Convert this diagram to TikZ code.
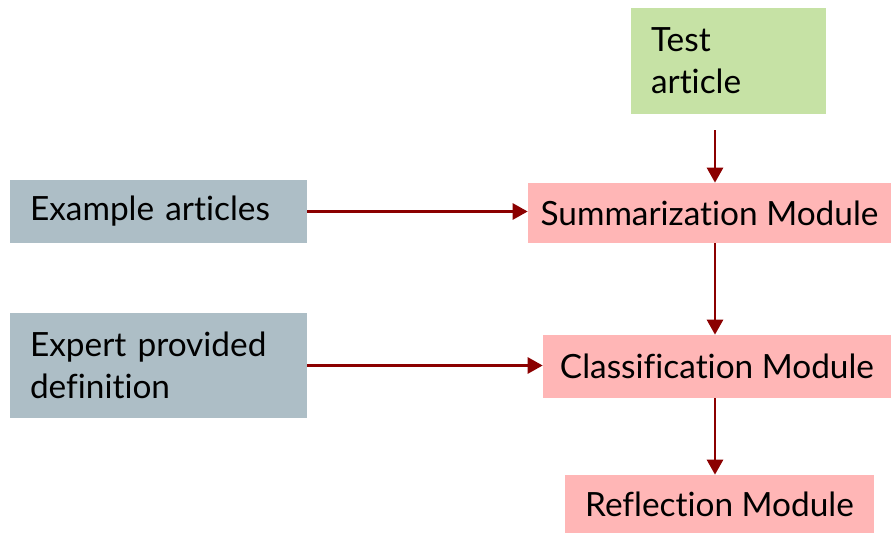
\documentclass[tikz,border=0pt]{standalone}
\usepackage{fontspec}
\setmainfont{Lato}[Ligatures=NoCommon]
\usetikzlibrary{arrows.meta}

\definecolor{testgreen}{RGB}{198,226,165}
\definecolor{srcgray}{RGB}{173,190,198}
\definecolor{modpink}{RGB}{255,182,182}
\definecolor{flowred}{RGB}{139,0,0}

\tikzset{
  srcbox/.style={fill=srcgray, align=left, inner xsep=0.4cm, inner ysep=0pt,
    text width=5.14cm, font=\fontsize{19}{24}\selectfont},
  modbox/.style={fill=modpink, inner sep=0pt, font=\fontsize{19}{24}\selectfont},
  flow/.style={draw=flowred, line width=1.6pt,
    -{Triangle[length=0.3cm,width=0.32cm]}}
}

\begin{document}
\begin{tikzpicture}[x=0.02cm,y=-0.02cm]
\useasboundingbox (0,0) rectangle (894,534);

\node[fill=testgreen, align=left, inner xsep=0.4cm, inner ysep=0pt, text width=3.1cm,
  minimum height=2.12cm, font=\fontsize{19}{24}\selectfont] (test) at (728.5,61) {Test\\article};

\node[srcbox, minimum height=1.26cm] (ex) at (158.5,211.5) {Example articles};
\node[srcbox, minimum height=2.1cm] (exp) at (158.5,365.5) {Expert provided\\definition};

\node[modbox, minimum width=7.26cm, minimum height=1.2cm] (sum) at (709.5,213) {Summarization Module};
\node[modbox, minimum width=6.96cm, minimum height=1.26cm] (cls) at (717,366.5) {Classification Module};
\node[modbox, minimum width=6.18cm, minimum height=1.16cm] (refl) at (719.5,504) {Reflection Module};

\coordinate (spine) at (715,0);

%\draw [draw=black] (0,0) rectangle (894,534);

\draw[flow, shorten <=0.32cm] (spine |- test.south) -- (spine |- sum.north);
\draw[flow] (spine |- sum.south) -- (spine |- cls.north);
\draw[flow] (spine |- cls.south) -- (spine |- refl.north);

\draw[flow] (ex.east) -- (ex.east -| sum.west);
\draw[flow] (exp.east) -- (exp.east -| cls.west);

\end{tikzpicture}
\end{document}
